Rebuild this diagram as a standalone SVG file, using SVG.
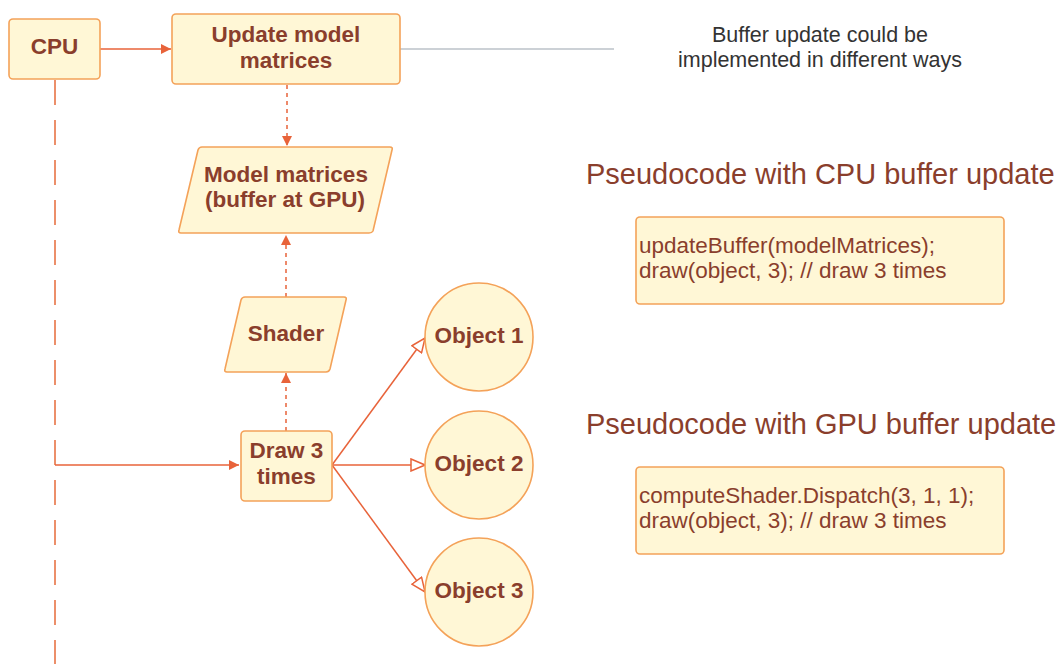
<svg xmlns="http://www.w3.org/2000/svg" width="1060" height="664" viewBox="0 0 1060 664">
<style>
.node{fill:#FFF7D6;stroke:#F4A259;stroke-width:1.6}
.lbl{font-family:"Liberation Sans",Arial,sans-serif;font-weight:bold;font-size:22.5px;fill:#8A3E2C;text-anchor:middle}
.conn{stroke:#E8633A;stroke-width:1.5;fill:none}
.dash{stroke:#E8633A;stroke-width:1.5;fill:none;stroke-dasharray:4 4}
.life{stroke:#EC8F6A;stroke-width:2;fill:none;stroke-dasharray:25 15}
.note{font-family:"Liberation Sans",Arial,sans-serif;font-size:21.5px;fill:#333;text-anchor:middle}
.title{font-family:"Liberation Sans",Arial,sans-serif;font-size:29px;fill:#8A3E2C}
.code{font-family:"Liberation Sans",Arial,sans-serif;font-size:22.5px;fill:#8A3E2C}
</style>
<defs>
<marker id="fa" viewBox="0 0 10 10" refX="10" refY="5" markerWidth="10" markerHeight="10" markerUnits="userSpaceOnUse" orient="auto"><path d="M0,0 L10,5 L0,10 z" fill="#E8633A"/></marker>
<marker id="ha" viewBox="0 0 16 14" refX="15" refY="7" markerWidth="16" markerHeight="14" markerUnits="userSpaceOnUse" orient="auto"><path d="M1,1 L15,7 L1,13 z" fill="#fff" stroke="#E8633A" stroke-width="1.5"/></marker>
</defs>
<rect width="1060" height="664" fill="#fff"/>
<g id="connectors">
<path class="life" d="M55,80 V664"/>
<path class="conn" d="M100,49 H171" marker-end="url(#fa)"/>
<path d="M400,49 H614" stroke="#9AA3AE" stroke-width="1.2" fill="none"/>
<path class="dash" d="M287,85 V146" marker-end="url(#fa)"/>
<path class="dash" d="M286,297 V235" marker-end="url(#fa)"/>
<path class="dash" d="M286,431 V373" marker-end="url(#fa)"/>
<path class="conn" d="M55,465 H239" marker-end="url(#fa)"/>
<path class="conn" d="M332,465 L425,338" marker-end="url(#ha)"/>
<path class="conn" d="M332,465 H425" marker-end="url(#ha)"/>
<path class="conn" d="M332,465 L425,592" marker-end="url(#ha)"/>
</g>
<g id="cpu"><rect class="node" x="9" y="19" width="91" height="60" rx="4"/><text class="lbl" x="54.5" y="54">CPU</text></g>
<g id="update"><rect class="node" x="172" y="14" width="228" height="70" rx="4"/><text class="lbl" x="286" y="42">Update model</text><text class="lbl" x="286" y="68">matrices</text></g>
<g id="modelmatrices"><path class="node" d="M202,147 H390 Q393,147 392,150 L373,231 Q372,233 369,233 H181 Q178,233 179,230 L198,150 Q199,147 202,147 z"/><text class="lbl" x="286" y="182">Model matrices</text><text class="lbl" x="285" y="207">(buffer at GPU)</text></g>
<g id="shader"><path class="node" d="M245,297 H344 Q347,297 346,300 L330,369 Q329,372 326,372 H227 Q224,372 225,369 L241,300 Q242,297 245,297 z"/><text class="lbl" x="286" y="341">Shader</text></g>
<g id="draw"><rect class="node" x="241" y="431" width="91" height="70" rx="4"/><text class="lbl" x="286.5" y="458">Draw 3</text><text class="lbl" x="286.5" y="484">times</text></g>
<g id="obj1"><circle class="node" cx="479" cy="337" r="54"/><text class="lbl" x="479" y="343">Object 1</text></g>
<g id="obj2"><circle class="node" cx="479" cy="465" r="54"/><text class="lbl" x="479" y="471">Object 2</text></g>
<g id="obj3"><circle class="node" cx="479" cy="592" r="54"/><text class="lbl" x="479" y="598">Object 3</text></g>
<g id="note"><text class="note" x="820" y="42">Buffer update could be</text><text class="note" x="820" y="67">implemented in different ways</text></g>
<g id="cputitle"><text class="title" x="586" y="184">Pseudocode with CPU buffer update</text></g>
<g id="cpucode"><rect class="node" x="636" y="217" width="368" height="87" rx="4"/><text class="code" x="639" y="253">updateBuffer(modelMatrices);</text><text class="code" x="639" y="278">draw(object, 3); // draw 3 times</text></g>
<g id="gputitle"><text class="title" x="586" y="434">Pseudocode with GPU buffer update</text></g>
<g id="gpucode"><rect class="node" x="636" y="467" width="368" height="87" rx="4"/><text class="code" x="639" y="503">computeShader.Dispatch(3, 1, 1);</text><text class="code" x="639" y="528">draw(object, 3); // draw 3 times</text></g>
</svg>
